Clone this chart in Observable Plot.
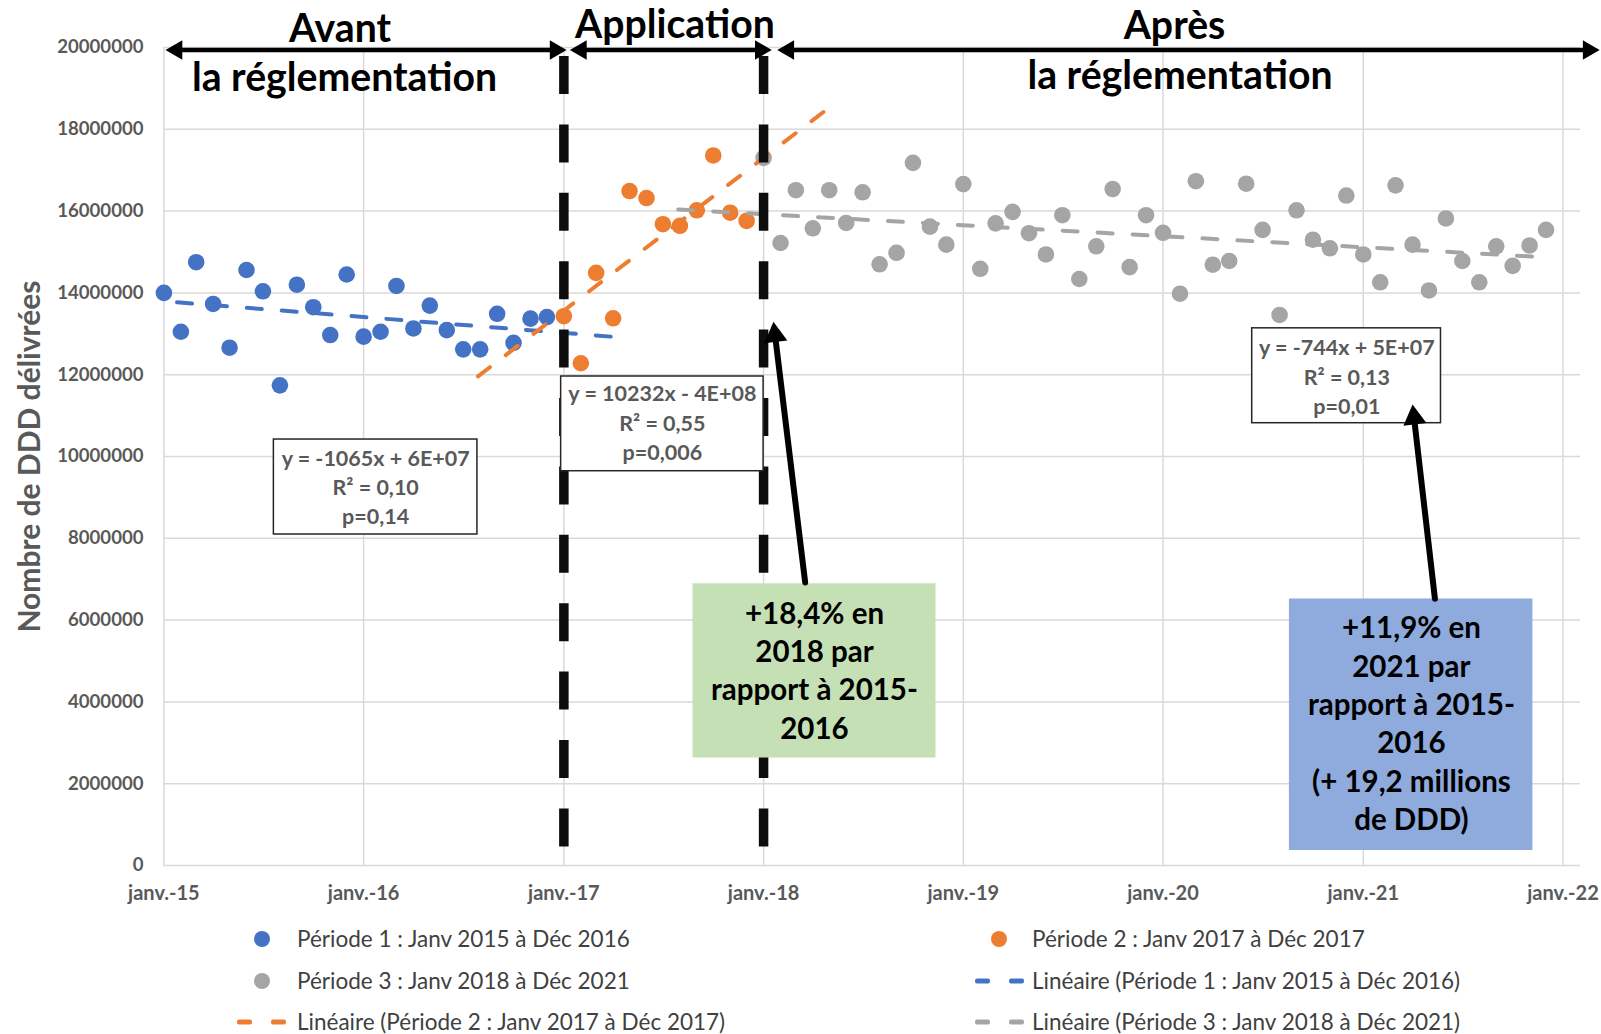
<!DOCTYPE html>
<html>
<head>
<meta charset="utf-8">
<script src="https://cdn.jsdelivr.net/npm/d3@7"></script>
<script src="https://cdn.jsdelivr.net/npm/@observablehq/plot@0.6"></script>
<style>
  html, body { margin: 0; padding: 0; background: #fff; }
  #chart svg { display: block; }
  .legend { position: relative; width: 1601px; height: 124px; font-family: Lato, "Open Sans", sans-serif; font-size: 22.5px; color: #404040; }
  .item { position: absolute; white-space: nowrap; transform: translateY(-50%); line-height: 1; }
  .sym { position: absolute; transform: translateY(-50%); }
  .circ { width: 16px; height: 16px; border-radius: 50%; margin-left: -8px; }
  .dash { height: 5px; width: 15px; border-radius: 2px; }
</style>
</head>
<body>
<div id="chart"></div>
<div class="legend" id="legend"></div>
<script>
// ---------- Data (values in DDD) ----------
const months1 = ["2015-01","2015-02","2015-03","2015-04","2015-05","2015-06","2015-07","2015-08","2015-09","2015-10","2015-11","2015-12",
                 "2016-01","2016-02","2016-03","2016-04","2016-05","2016-06","2016-07","2016-08","2016-09","2016-10","2016-11","2016-12"];
const values1 = [14.00e6, 13.05e6, 14.75e6, 13.73e6, 12.66e6, 14.56e6, 14.04e6, 11.74e6, 14.20e6, 13.65e6, 12.97e6, 14.45e6,
                 12.93e6, 13.05e6, 14.17e6, 13.13e6, 13.69e6, 13.09e6, 12.62e6, 12.62e6, 13.49e6, 12.78e6, 13.37e6, 13.41e6];

const months2 = ["2017-01","2017-02","2017-03","2017-04","2017-05","2017-06","2017-07","2017-08","2017-09","2017-10","2017-11","2017-12"];
const values2 = [13.43e6, 12.28e6, 14.49e6, 13.38e6, 16.49e6, 16.32e6, 15.68e6, 15.64e6, 16.02e6, 17.36e6, 15.96e6, 15.76e6];

const months3 = ["2018-01","2018-02","2018-03","2018-04","2018-05","2018-06","2018-07","2018-08","2018-09","2018-10","2018-11","2018-12",
                 "2019-01","2019-02","2019-03","2019-04","2019-05","2019-06","2019-07","2019-08","2019-09","2019-10","2019-11","2019-12",
                 "2020-01","2020-02","2020-03","2020-04","2020-05","2020-06","2020-07","2020-08","2020-09","2020-10","2020-11","2020-12",
                 "2021-01","2021-02","2021-03","2021-04","2021-05","2021-06","2021-07","2021-08","2021-09","2021-10","2021-11","2021-12"];
const values3 = [17.30e6, 15.22e6, 16.51e6, 15.58e6, 16.51e6, 15.71e6, 16.46e6, 14.70e6, 14.98e6, 17.18e6, 15.62e6, 15.18e6,
                 16.66e6, 14.59e6, 15.70e6, 15.98e6, 15.46e6, 14.94e6, 15.90e6, 14.34e6, 15.14e6, 16.54e6, 14.63e6, 15.90e6,
                 15.47e6, 13.98e6, 16.73e6, 14.69e6, 14.78e6, 16.67e6, 15.54e6, 13.46e6, 16.02e6, 15.30e6, 15.09e6, 16.38e6,
                 14.94e6, 14.26e6, 16.63e6, 15.18e6, 14.06e6, 15.82e6, 14.78e6, 14.26e6, 15.14e6, 14.66e6, 15.16e6, 15.54e6];

// Linear trend lines (end points as drawn in the chart)
const trendDates1 = ["2015-01-25", "2017-04-07"]; const trendValues1 = [13.77e6, 12.92e6];
const trendDates2 = ["2016-07-28", "2018-04-24"]; const trendValues2 = [11.96e6, 18.46e6];
const trendDates3 = ["2017-07-29", "2021-12-01"]; const trendValues3 = [16.04e6, 14.87e6];

// Axis ticks
const yTicks = [0, 2e6, 4e6, 6e6, 8e6, 10e6, 12e6, 14e6, 16e6, 18e6, 20e6];
const xTickDates = ["2015-01-01","2016-01-01","2017-01-01","2018-01-01","2019-01-01","2020-01-01","2021-01-01","2022-01-01"];
const xTickLabels = ["janv.-15","janv.-16","janv.-17","janv.-18","janv.-19","janv.-20","janv.-21","janv.-22"];

// Series labels
const seriesNames = ["Période 1 : Janv 2015 à Déc 2016", "Période 2 : Janv 2017 à Déc 2017", "Période 3 : Janv 2018 à Déc 2021"];
const seriesColors = ["#4472c4", "#ed7d31", "#a5a5a5"];

// Annotations
const regulationDates = ["2017-01-01", "2018-01-01"];
const periodArrowStarts = ["2015-01-04", "2017-01-12", "2018-01-26"];
const periodArrowEnds   = ["2017-01-06", "2018-01-16", "2022-03-09"];
const periodArrowLevel = 19.94e6;
const periodLabelTexts = ["Avant", "la réglementation", "Application", "Après", "la réglementation"];
const periodLabelDates = ["2015-11-19", "2015-11-27", "2017-07-23", "2020-01-22", "2020-02-01"];
const periodLabelLevels = [20.45e6, 19.25e6, 20.55e6, 20.52e6, 19.28e6];

const statTexts = ["y = -1065x + 6E+07\nR² = 0,10\np=0,14", "y = 10232x - 4E+08\nR² = 0,55\np=0,006", "y = -744x + 5E+07\nR² = 0,13\np=0,01"];
const statTextDates = ["2016-01-23", "2017-06-30", "2020-12-02"];
const statTextLevels = [9.29e6, 10.86e6, 11.985e6];
const statBoxStart = ["2015-07-21", "2016-12-27", "2020-06-12"];
const statBoxEnd   = ["2016-07-27", "2018-01-01", "2021-05-23"];
const statBoxLow   = [8.093e6, 9.64e6, 10.814e6];
const statBoxHigh  = [10.415e6, 11.956e6, 13.134e6];

const calloutTexts = ["+18,4% en\n2018 par\nrapport à 2015-\n2016", "+11,9% en\n2021 par\nrapport à 2015-\n2016\n(+ 19,2 millions\nde DDD)"];
const calloutTextDates = ["2018-04-04", "2021-03-30"];
const calloutTextLevels = [4.81e6, 3.51e6];
const calloutBoxStart = ["2017-08-25", "2020-08-19"];
const calloutBoxEnd   = ["2018-11-12", "2021-11-07"];
const calloutBoxLow   = [2.628e6, 0.367e6];
const calloutBoxHigh  = [6.888e6, 6.516e6];
const calloutColors = ["#c5e0b4", "#8faadc"];
const calloutArrowFromDates = ["2018-03-18", "2021-05-12"];
const calloutArrowFromLevels = [6.92e6, 6.52e6];
const calloutArrowToDates = ["2018-01-19", "2021-04-01"];
const calloutArrowToLevels = [13.29e6, 11.27e6];
const calloutArrowAngles = [-6.9, -6.7];

// ---------- Build tables ----------
const pm = d3.utcParse("%Y-%m");
const pd = d3.utcParse("%Y-%m-%d");
const pts = (months, values, s) => months.map((m, i) => ({date: pm(m), value: values[i], s}));
const p1 = pts(months1, values1, 0), p2 = pts(months2, values2, 1), p3 = pts(months3, values3, 2);
const tl = (dates, values) => dates.map((d, i) => ({date: pd(d), value: values[i]}));
const t1 = tl(trendDates1, trendValues1), t2 = tl(trendDates2, trendValues2), t3 = tl(trendDates3, trendValues3);
const xTicks = xTickDates.map(pd);
const xLabel = new Map(xTicks.map((d, i) => [+d, xTickLabels[i]]));

const regs = regulationDates.map(pd);
const pArrows = periodArrowStarts.map((s, i) => ({a: pd(s), b: pd(periodArrowEnds[i]), y: periodArrowLevel}));
const pLabels = periodLabelTexts.map((t, i) => ({text: t, x: pd(periodLabelDates[i]), y: periodLabelLevels[i]}));
const sBoxes = statBoxStart.map((s, i) => ({x1: pd(s), x2: pd(statBoxEnd[i]), y1: statBoxLow[i], y2: statBoxHigh[i]}));
const sTexts = statTexts.map((t, i) => ({text: t, x: pd(statTextDates[i]), y: statTextLevels[i]}));
const cBoxes = calloutBoxStart.map((s, i) => ({x1: pd(s), x2: pd(calloutBoxEnd[i]), y1: calloutBoxLow[i], y2: calloutBoxHigh[i], fill: calloutColors[i]}));
const cTexts = calloutTexts.map((t, i) => ({text: t, x: pd(calloutTextDates[i]), y: calloutTextLevels[i]}));
const cArrows = calloutArrowFromDates.map((d, i) => ({x1: pd(d), y1: calloutArrowFromLevels[i], x2: pd(calloutArrowToDates[i]), y2: calloutArrowToLevels[i], angle: calloutArrowAngles[i]}));

const font = "Lato, 'Open Sans', sans-serif";

const chart = Plot.plot({
  width: 1601,
  height: 910,
  marginLeft: 163.4,
  marginRight: 21,
  marginTop: 47,
  marginBottom: 45,
  style: {fontFamily: font, background: "white", overflow: "visible"},
  x: {type: "utc", domain: [pd("2015-01-01"), pd("2022-02-02")]},
  y: {domain: [0, 20e6]},
  marks: [
    Plot.gridY(yTicks, {stroke: "#d9d9d9", strokeOpacity: 1, strokeWidth: 1.5}),
    Plot.gridX(xTicks, {stroke: "#d9d9d9", strokeOpacity: 1, strokeWidth: 1.5}),
    Plot.axisY(yTicks, {tickSize: 0, tickPadding: 20.4, tickFormat: d => String(d), fontSize: 18.6, fontWeight: 700, fill: "#595959", label: null}),
    Plot.axisX(xTicks, {tickSize: 0, tickPadding: 20, tickFormat: d => xLabel.get(+d), fontSize: 20, fontWeight: 700, fill: "#595959", label: null}),
    Plot.text(["Nombre de DDD délivrées"], {frameAnchor: "left", rotate: -90, dx: -134, textAnchor: "middle", lineAnchor: "middle", fontSize: 30, fontWeight: 700, fill: "#595959"}),

    // points
    Plot.dot(p1, {x: "date", y: "value", r: 8.3, fill: seriesColors[0]}),
    Plot.dot(p2, {x: "date", y: "value", r: 8.3, fill: seriesColors[1]}),
    Plot.dot(p3, {x: "date", y: "value", r: 8.3, fill: seriesColors[2]}),

    // trend lines
    Plot.line(t1, {x: "date", y: "value", stroke: seriesColors[0], strokeWidth: 4, strokeDasharray: "15,20", strokeLinecap: "round"}),
    Plot.line(t2, {x: "date", y: "value", stroke: seriesColors[1], strokeWidth: 4, strokeDasharray: "15,20", strokeLinecap: "round"}),
    Plot.line(t3, {x: "date", y: "value", stroke: seriesColors[2], strokeWidth: 4, strokeDasharray: "15,20", strokeLinecap: "round"}),

    // regulation boundaries
    Plot.ruleX(regs, {x: d => d, y1: 19.78e6, y2: 0.455e6, stroke: "#0d0d0d", strokeWidth: 9.5, strokeDasharray: "38,30.4"}),

    // period arrows
    Plot.arrow(pArrows, {x1: "a", y1: "y", x2: "b", y2: "y", headLength: 0, insetStart: 9, insetEnd: 9, stroke: "#000", strokeWidth: 4.5}),
    Plot.dot(pArrows, {x: "a", y: "y", symbol: "triangle", r: 7.2, rotate: -90, fill: "#000", dx: 11.2}),
    Plot.dot(pArrows, {x: "b", y: "y", symbol: "triangle", r: 7.2, rotate: 90, fill: "#000", dx: -11.2}),
    Plot.text(pLabels, {x: "x", y: "y", text: "text", fontSize: 39.2, fontWeight: 700, fill: "#000", textAnchor: "middle", lineAnchor: "middle"}),

    // regression boxes
    Plot.rect(sBoxes, {x1: "x1", x2: "x2", y1: "y1", y2: "y2", fill: "white", stroke: "#262626", strokeWidth: 1.5}),
    Plot.text(sTexts, {x: "x", y: "y", text: "text", fontSize: 21.5, fontWeight: 700, fill: "#595959", lineHeight: 1.37, textAnchor: "middle", lineAnchor: "middle"}),

    // callout boxes
    Plot.rect(cBoxes, {x1: "x1", x2: "x2", y1: "y1", y2: "y2", fill: "fill"}),
    Plot.text(cTexts, {x: "x", y: "y", text: "text", fontSize: 29.5, fontWeight: 700, fill: "#000", lineHeight: 1.3, textAnchor: "middle", lineAnchor: "middle"}),
    Plot.arrow(cArrows, {x1: "x1", y1: "y1", x2: "x2", y2: "y2", headLength: 0, insetEnd: 12, stroke: "#000", strokeWidth: 6}),
    Plot.dot(cArrows, {x: "x2", y: "y2", symbol: "triangle", r: 8.6, rotate: "angle", fill: "#000", dx: 1.6, dy: 13.2})
  ]
});
document.getElementById("chart").appendChild(chart);

// ---------- Legend (HTML, below the SVG) ----------
const legend = document.getElementById("legend");
const top0 = 910;
const rows = [939, 981, 1022];
const legendItems = [
  {kind: "dot", color: seriesColors[0], label: seriesNames[0], sym: 262.4, text: 297, row: 0},
  {kind: "dot", color: seriesColors[1], label: seriesNames[1], sym: 998.6, text: 1032, row: 0},
  {kind: "dot", color: seriesColors[2], label: seriesNames[2], sym: 262.4, text: 297, row: 1},
  {kind: "dash", color: seriesColors[0], label: "Linéaire (" + seriesNames[0] + ")", sym: 975, text: 1032, row: 1},
  {kind: "dash", color: seriesColors[1], label: "Linéaire (" + seriesNames[1] + ")", sym: 237, text: 297, row: 2},
  {kind: "dash", color: seriesColors[2], label: "Linéaire (" + seriesNames[2] + ")", sym: 975, text: 1032, row: 2}
];
for (const it of legendItems) {
  const y = rows[it.row] - top0;
  if (it.kind === "dot") {
    const s = document.createElement("div");
    s.className = "sym circ";
    s.style.left = it.sym + "px"; s.style.top = y + "px"; s.style.background = it.color;
    legend.appendChild(s);
  } else {
    for (const off of [0, 34]) {
      const s = document.createElement("div");
      s.className = "sym dash";
      s.style.left = (it.sym + off) + "px"; s.style.top = y + "px"; s.style.background = it.color;
      legend.appendChild(s);
    }
  }
  const t = document.createElement("div");
  t.className = "item";
  t.style.left = it.text + "px"; t.style.top = y + "px";
  t.textContent = it.label;
  legend.appendChild(t);
}
</script>
</body>
</html>
